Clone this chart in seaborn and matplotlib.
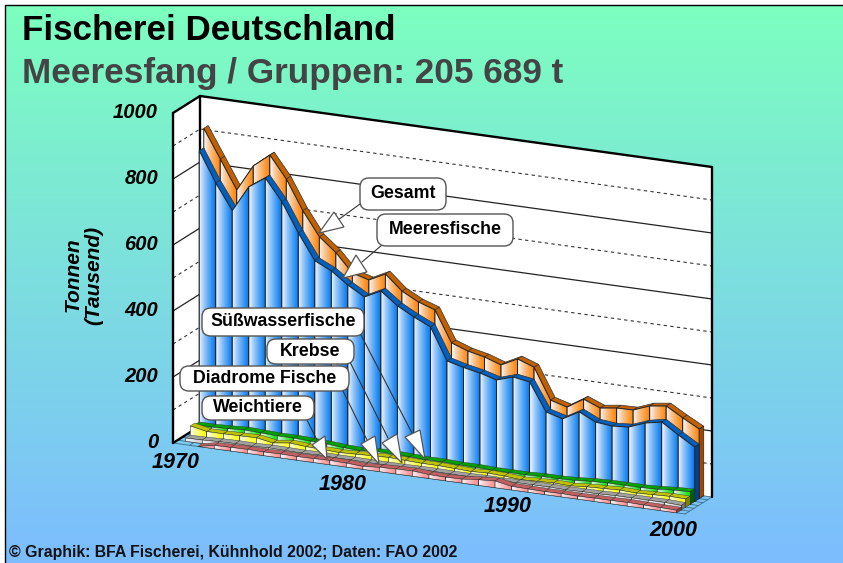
import numpy as np
import pandas as pd
import matplotlib
matplotlib.use("Agg")
import matplotlib.pyplot as plt
from matplotlib.patches import Polygon, FancyBboxPatch
import seaborn as sns

# data, thousand tonnes per year
years = list(range(1970, 2001))
gesamt = [914, 828, 741, 821, 861, 795, 706, 634, 593, 538, 524, 549, 504, 478, 461, 368,
          350, 339, 322, 347, 329, 236, 222, 253, 233, 240, 241, 260, 267, 238, 211]
meeresfische = [855, 764, 687, 766, 800, 735, 647, 570, 546, 510, 481, 506, 468, 441, 418, 322,
                309, 299, 285, 301, 293, 209, 195, 223, 199, 194, 198, 217, 227, 195, 165]
suesswasser = [33, 33, 35, 38, 36, 34, 34, 32, 30, 26, 24, 28, 28, 26, 24, 24,
               22, 22, 20, 20, 20, 22, 22, 24, 28, 30, 30, 30, 32, 36, 38]
krebse = [38, 28, 28, 29, 30, 21, 28, 24, 22, 20, 22, 24, 26, 24, 22, 22,
          20, 18, 20, 18, 14, 16, 18, 16, 20, 22, 24, 22, 24, 26, 25]
diadrome = [10, 11, 13, 14, 13, 15, 14, 13, 14, 13, 13, 12, 12, 12, 13, 13,
            12, 12, 13, 12, 14, 14, 14, 13, 14, 14, 16, 16, 16, 16, 14]
weichtiere = [0, 0, 10, 11, 12, 11, 12, 11, 12, 13, 12, 9, 13, 15, 16, 12,
              11, 12, 17, 20, 11, 10, 9, 10, 9, 10, 10, 11, 10, 9, 8]

y_ticks = [0, 200, 400, 600, 800, 1000]
x_labels = ["1970", "1980", "1990", "2000"]
x_label_pos = [(176, 462), (343, 484), (508, 507), (673, 531)]

# front to back
series = [
    ("Weichtiere", weichtiere, "#ff8888", "#c06060", "#8a4040"),
    ("Diadrome Fische", diadrome, "#c8c8c8", "#a0a0a0", "#707070"),
    ("Krebse", krebse, "#ffff00", "#c0c000", "#808000"),
    ("Suesswasser", suesswasser, "#00e000", "#00a000", "#006000"),
    ("Meeresfische", meeresfische, "#0078f0", "#0060c0", "#004090"),
    ("Gesamt", gesamt, "#ff8000", "#c06000", "#a04800"),
]

# oblique projection of the box
X0, Y0 = 173, 443
DX, DY = 512, 71
HEIGHT = 330
DEPTH_X, DEPTH_Y = 27, -17
n = len(years)
rows = len(series)


def project(pos, value, depth):
    # pos in categories, value in tonnes, depth in series rows
    x = X0 + pos / n * DX + depth / rows * DEPTH_X
    y = Y0 + pos / n * DY - value / 1000 * HEIGHT + depth / rows * DEPTH_Y
    return x, y


def gradient(color):
    c = np.array(matplotlib.colors.to_rgb(color))
    t = np.linspace(0, 1, 32)[:, None] ** 0.8
    return (1 - t) * np.array([0.97, 0.98, 1.0]) + t * c


def add_poly(points, face, edge="black", lw=0.8, z=1):
    ax.add_patch(Polygon(points, closed=True, facecolor=face, edgecolor=edge, linewidth=lw, zorder=z))


sns.set_style("white")
plt.rcParams["font.family"] = ["Liberation Sans", "DejaVu Sans"]
fig = plt.figure(figsize=(8.43, 5.63), dpi=100)
fig.patch.set_facecolor("white")
ax = fig.add_axes([0, 0, 1, 1])
ax.set_axis_off()

# background, reaches the right and bottom edge, dark line only on top and left
bg = np.linspace(np.array([0.49, 1.0, 0.75]), np.array([0.49, 0.74, 1.0]), 256)[:, None, :]
ax.imshow(bg, extent=(4.5, 843, 563, 5), aspect="auto", zorder=0.1, interpolation="bilinear")
ax.plot([4.5, 4.5, 843], [563, 5, 5], color="black", linewidth=1, zorder=0.5)

# walls
add_poly([project(0, 0, 0), project(0, 1000, 0), project(0, 1000, rows), project(0, 0, rows)], "white", "none", 0, 1)
add_poly([project(0, 0, rows), project(0, 1000, rows), project(n, 1000, rows), project(n, 0, rows)], "white", "none", 0, 1)

# grid
major, minor = [], []
for v in range(100, 1000, 100):
    pts = [project(0, v, 0), project(0, v, rows), project(n, v, rows)]
    for p in pts:
        (major if v % 200 == 0 else minor).append({"v": v, "x": p[0], "y": p[1]})
sns.lineplot(data=pd.DataFrame(major), x="x", y="y", units="v", estimator=None, sort=False,
             color="#222222", linewidth=0.9, ax=ax, zorder=2, legend=False)
sns.lineplot(data=pd.DataFrame(minor), x="x", y="y", units="v", estimator=None, sort=False,
             color="#333333", linewidth=0.8, linestyle=(0, (3, 3)), ax=ax, zorder=2, legend=False)

# floor
floor = []
for i in range(n + 1):
    for d in (0, rows):
        p = project(i, 0, d)
        floor.append({"k": i, "x": p[0], "y": p[1]})
for d in range(rows + 1):
    for i in (0, n):
        p = project(i, 0, d)
        floor.append({"k": 100 + d, "x": p[0], "y": p[1]})
sns.lineplot(data=pd.DataFrame(floor), x="x", y="y", units="k", estimator=None, sort=False,
             color="#3a6f8a", linewidth=0.6, ax=ax, zorder=2, legend=False)

# box edges
edges = []
for k, (a, b) in enumerate([((0, 0, 0), (0, 1000, 0)), ((0, 1000, 0), (0, 1000, rows)),
                            ((0, 0, 0), (0, 0, rows)), ((0, 0, rows), (0, 1000, rows)),
                            ((0, 1000, rows), (n, 1000, rows)), ((n, 1000, rows), (n, 0, rows))]):
    for p in (project(*a), project(*b)):
        edges.append({"k": k, "x": p[0], "y": p[1]})
sns.lineplot(data=pd.DataFrame(edges), x="x", y="y", units="k", estimator=None, sort=False,
             color="black", linewidth=1.7, ax=ax, zorder=3, legend=False)

# series, back row first
z = 4.0
for d in range(rows - 1, -1, -1):
    name, values, face, top, side = series[d]
    grad = gradient(face)[None, :, :]
    # the four low rows get thinner outlines, otherwise the colours drown
    top_lw, face_lw = (0.5, 0.7) if d >= 4 else (0.3, 0.35)
    for i in range(n - 1):
        v0, v1 = values[i], values[i + 1]
        if v0 == 0 and v1 == 0:
            continue
        p0 = project(i + 0.5, v0, d)
        p1 = project(i + 1.5, v1, d)
        b0 = project(i + 0.5, 0, d)
        b1 = project(i + 1.5, 0, d)
        t0 = project(i + 0.5, v0, d + 1)
        t1 = project(i + 1.5, v1, d + 1)
        z += 0.01
        add_poly([p0, p1, t1, t0], top, "#333333", top_lw, z)
        z += 0.01
        shape = Polygon([p0, p1, b1, b0], closed=True, transform=ax.transData, facecolor="none", edgecolor="none")
        ax.add_patch(shape)
        img = ax.imshow(grad, extent=(p0[0], p1[0], max(b0[1], b1[1]), min(p0[1], p1[1])),
                        aspect="auto", zorder=z, interpolation="bilinear")
        img.set_clip_path(shape)
        z += 0.01
        add_poly([p0, p1, b1, b0], "none", "#222222", face_lw, z)
    # end cap
    z += 0.01
    e = n - 0.5
    add_poly([project(e, values[-1], d), project(e, values[-1], d + 1),
              project(e, 0, d + 1), project(e, 0, d)], side, "#222222", top_lw, z)

# axis text
bold_italic = dict(fontweight="bold", fontstyle="italic", color="black", fontsize=14.5, zorder=20)
for v in y_ticks:
    tx, ty = project(0, v, 0)
    ax.text(tx - 15, ty, str(v), ha="right", va="center", **bold_italic)
for lab, pos in zip(x_labels, x_label_pos):
    ax.text(pos[0], pos[1], lab, ha="center", va="center", **{**bold_italic, "fontsize": 15.5})
ax.text(83, 275, "Tonnen\n(Tausend)", rotation=90, ha="center", va="center", linespacing=1.1,
        multialignment="center", **{**bold_italic, "fontsize": 15})

# titles
ax.text(22, 31, "Fischerei Deutschland", fontsize=25.2, fontweight="bold", color="black", va="center", zorder=20)
ax.text(22, 73, "Meeresfang / Gruppen: 205 689 t", fontsize=25.3, fontweight="bold", color="#444444", va="center", zorder=20)
ax.text(9, 552, "© Graphik: BFA Fischerei, Kühnhold 2002; Daten: FAO 2002", fontsize=11.4, fontweight="bold",
        color="#111111", va="center", zorder=20)

# callouts: text, box, line, wedge
callouts = [
    ("Gesamt", (360, 178, 446, 210), ((360, 204), (338, 220)), ((319, 233), (334, 212), (344, 227))),
    ("Meeresfische", (377, 214, 513, 246), ((382, 245), (362, 262)), ((343, 278), (356, 255), (367, 272))),
    ("Süßwasserfische", (202, 308, 364, 336), ((361, 335), (412, 433)), ((425, 459), (405, 437), (420, 430))),
    ("Krebse", (267, 339, 354, 364), ((350, 362), (388, 438)), ((402, 463), (382, 443), (397, 434))),
    ("Diadrome Fische", (180, 366, 349, 391), ((343, 391), (367, 440)), ((379, 464), (361, 444), (375, 436))),
    ("Weichtiere", (202, 396, 314, 420), ((307, 420), (317, 440)), ((327, 459), (312, 445), (325, 436))),
]
for text, box, line, wedge in callouts:
    ax.plot([line[0][0], line[1][0]], [line[0][1], line[1][1]], color="#333333", linewidth=0.8, zorder=12)
    add_poly(wedge, "white", "#555555", 0.9, 13)
    ax.add_patch(FancyBboxPatch((box[0], box[1]), box[2] - box[0], box[3] - box[1],
                                boxstyle="round,pad=0,rounding_size=9", facecolor="white",
                                edgecolor="#555555", linewidth=1, zorder=14))
    ax.text((box[0] + box[2]) / 2, (box[1] + box[3]) / 2, text, ha="center", va="center",
            fontsize=12.8, fontweight="bold", color="black", zorder=15)

ax.set_xlim(0, 843)
ax.set_ylim(563, 0)
ax.set_xlabel("")
ax.set_ylabel("")
fig.savefig("out.png", dpi=100)
